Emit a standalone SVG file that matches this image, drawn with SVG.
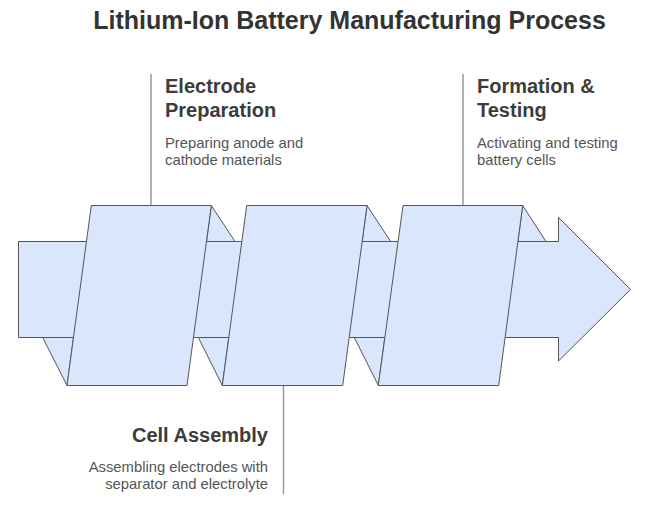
<svg xmlns="http://www.w3.org/2000/svg" width="651" height="510" viewBox="0 0 651 510">
<style>
.shape{fill:#dae6fc;stroke:#555;stroke-width:1;stroke-linejoin:round}
.conn{stroke:#999;stroke-width:1.5;fill:none}
.title{font-family:"Liberation Sans",Arial,sans-serif;font-weight:bold;font-size:25px;fill:#333}
.head{font-family:"Liberation Sans",Arial,sans-serif;font-weight:bold;font-size:20px;fill:#3c3c3c}
.desc{font-family:"Liberation Sans",Arial,sans-serif;font-size:14.8px;fill:#555}
</style>
<rect width="651" height="510" fill="#fff"/>
<text class="title" x="349.5" y="29" text-anchor="middle">Lithium-Ion Battery Manufacturing Process</text>
<g id="connectors">
<line class="conn" x1="151" y1="74" x2="151" y2="205.5"/>
<line class="conn" x1="463" y1="74" x2="463" y2="205.5"/>
<line class="conn" x1="283.5" y1="385.5" x2="283.5" y2="494"/>
</g>
<g id="band">
<polygon class="shape" points="18.5,241.5 558.5,241.5 558.5,217.5 630.5,289.5 558.5,361 558.5,337.5 18.5,337.5"/>
</g>
<g id="step1">
<polygon class="shape" points="42.7,337.5 67,385.5 73.5,337.5"/>
<polygon class="shape" points="211.3,205.5 235,241.5 206.5,241.5"/>
<polygon class="shape" points="91.3,205.5 211.3,205.5 187,385.5 67,385.5"/>
</g>
<g id="step2">
<polygon class="shape" points="198.3,337.5 222.3,385.5 228.8,337.5"/>
<polygon class="shape" points="367,205.5 390.7,241.5 362.2,241.5"/>
<polygon class="shape" points="246.7,205.5 367,205.5 342.7,385.5 222.3,385.5"/>
</g>
<g id="step3">
<polygon class="shape" points="354.3,337.5 378.3,385.5 384.8,337.5"/>
<polygon class="shape" points="522.7,205.5 546,241.5 517.9,241.5"/>
<polygon class="shape" points="403,205.5 522.7,205.5 498.7,385.5 378.3,385.5"/>
</g>
<g id="electrode-preparation">
<text class="head" x="165" y="93">Electrode</text>
<text class="head" x="165" y="117">Preparation</text>
<text class="desc" x="165" y="148">Preparing anode and</text>
<text class="desc" x="165" y="165">cathode materials</text>
</g>
<g id="formation-testing">
<text class="head" x="477" y="93">Formation &amp;</text>
<text class="head" x="477" y="117">Testing</text>
<text class="desc" x="477" y="148">Activating and testing</text>
<text class="desc" x="477" y="165">battery cells</text>
</g>
<g id="cell-assembly">
<text class="head" x="268" y="442" text-anchor="end">Cell Assembly</text>
<text class="desc" x="268" y="472" text-anchor="end">Assembling electrodes with</text>
<text class="desc" x="268" y="489" text-anchor="end">separator and electrolyte</text>
</g>
</svg>
